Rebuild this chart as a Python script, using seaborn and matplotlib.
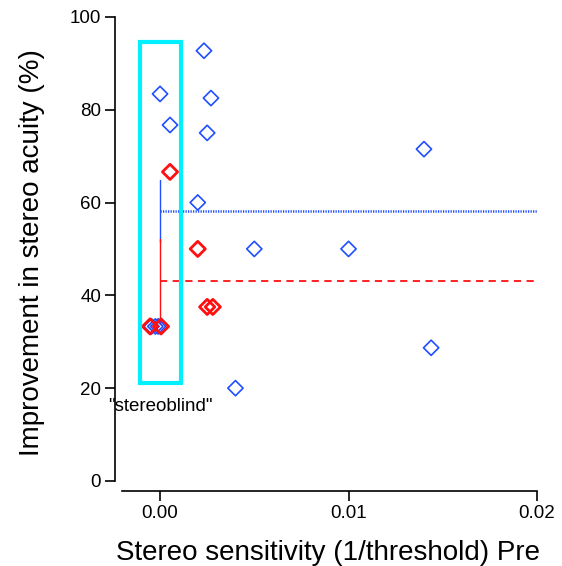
import matplotlib
matplotlib.use("Agg")
import matplotlib.pyplot as plt
import seaborn as sns
import pandas as pd
from matplotlib.patches import Rectangle

sns.set_style("ticks")
plt.rcParams['font.family'] = ['Liberation Sans', 'DejaVu Sans']

# Data
blue_x = [0.00233, 0.0000, 0.00053, 0.0027, 0.0025, 0.0020, 0.0050, 0.0100, 0.0140, 0.01438, 0.0040, -0.00045, -0.00025, -0.0001]
blue_y = [92.7, 83.4, 76.7, 82.5, 75.0, 60.0, 50.0, 50.0, 71.5, 28.7, 20.0, 33.3, 33.3, 33.3]
red_x = [0.00053, 0.0020, 0.0025, 0.0028, -0.00053, 0.00005]
red_y = [66.6, 50.0, 37.5, 37.5, 33.3, 33.3]
blue_mean, blue_err = 58.2, 6.7
red_mean, red_err = 43.0, 9.2
mean_x = 0.0
mean_x_end = 0.02
box_x = [-0.00106, 0.00111]
box_y = [21.1, 94.6]

blue_c = "#1f4fff"
red_c = "#ff1010"
cyan_c = "#00f0ff"

fig = plt.figure(figsize=(5.62, 5.66), dpi=100)
ax = fig.add_axes([0.2046, 0.1325, 0.7564, 0.841])

df_b = pd.DataFrame({"x": blue_x, "y": blue_y})
df_r = pd.DataFrame({"x": red_x, "y": red_y})

# mean lines
ax.plot([mean_x, mean_x_end], [blue_mean, blue_mean], color=blue_c, lw=1.8, ls=(0, (0.5, 0.5)), zorder=2)
ax.plot([mean_x, mean_x_end], [red_mean, red_mean], color=red_c, lw=1.3, ls=(0, (4, 3)), zorder=2)
ax.plot([mean_x, mean_x], [blue_mean - blue_err, blue_mean + blue_err], color=blue_c, lw=1.0, zorder=2)
ax.plot([mean_x, mean_x], [red_mean - red_err, red_mean + red_err], color=red_c, lw=1.0, zorder=2)

sns.scatterplot(data=df_b, x="x", y="y", marker="D", s=60, facecolors="none",
                edgecolor=blue_c, linewidth=1.2, ax=ax, zorder=3)
sns.scatterplot(data=df_r, x="x", y="y", marker="D", s=60, facecolors="none",
                edgecolor=red_c, linewidth=2.0, ax=ax, zorder=4)

ax.add_patch(Rectangle((box_x[0], box_y[0]), box_x[1] - box_x[0], box_y[1] - box_y[0],
                       fill=False, edgecolor=cyan_c, lw=3, zorder=5))
ax.text(0.0, 16.0, '"stereoblind"', ha="center", va="center", fontsize=13.5, color="black")

ax.set_xlim(-0.00239, 0.02016)
ax.set_ylim(-2.16, 100.4)
ax.set_xticks([0.0, 0.01, 0.02])
ax.set_xticklabels(["0.00", "0.01", "0.02"])
ax.set_yticks([0, 20, 40, 60, 80, 100])
ax.spines["top"].set_visible(False)
ax.spines["right"].set_visible(False)
ax.spines["left"].set_bounds(0, 100)
ax.spines["bottom"].set_bounds(-0.002, 0.02)
ax.tick_params(labelsize=13.5, length=7, width=1.2, color="black", labelcolor="black", pad=3)
for s in ("left", "bottom"):
    ax.spines[s].set_linewidth(1.2)
    ax.spines[s].set_color("black")
ax.set_xlabel("Stereo sensitivity (1/threshold) Pre", fontsize=20, labelpad=13, color="black")
ax.set_ylabel("Improvement in stereo acuity (%)", fontsize=20, labelpad=18, color="black")

fig.savefig("out.png", dpi=100)
